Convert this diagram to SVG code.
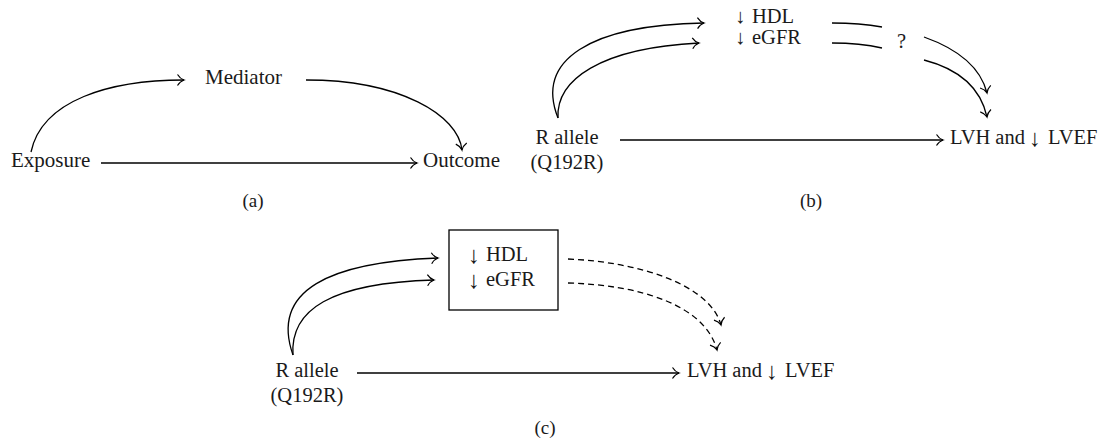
<svg xmlns="http://www.w3.org/2000/svg" width="1101" height="445" viewBox="0 0 1101 445">
<defs>
<style>
text{font-family:"Liberation Serif","Times New Roman",serif;fill:#1a1a1a;}
.t{font-size:20.5px;}
.ta{font-size:21px;}
.lab{font-size:19px;}
.ar{font-size:24px;}
.c{fill:none;stroke:#000;stroke-width:1.3;}
.d{stroke-dasharray:6,4;}
.box{fill:#fff;stroke:#000;stroke-width:1.3;}
</style>
<marker id="ah" markerUnits="userSpaceOnUse" markerWidth="20" markerHeight="20" viewBox="-10 -10 20 20" refX="0" refY="0" orient="auto" overflow="visible">
<path d="M-6.5,-5.5 C-4.5,-2.2 -1.8,-0.6 0,0 C-1.8,0.6 -4.5,2.2 -6.5,5.5" fill="none" stroke="#000" stroke-width="1.2" stroke-dasharray="none"/>
</marker>
</defs>
<rect width="1101" height="445" fill="#fff"/>

<g id="connectors">
<!-- panel a -->
<path class="c" d="M31,152 C42,100 110,80 184,80" marker-end="url(#ah)"/>
<path class="c" d="M306,80 C400,80 458,115 462,150" marker-end="url(#ah)"/>
<path class="c" d="M101,163 L417,163" marker-end="url(#ah)"/>
<!-- panel b -->
<path class="c" d="M558,118 C535,60 590,25 704,23" marker-end="url(#ah)"/>
<path class="c" d="M558,118 C556,80 600,48 699,43" marker-end="url(#ah)"/>
<path class="c" d="M620,140 L943,140" marker-end="url(#ah)"/>
<path class="c" d="M832,23 Q860,23 882,27"/>
<path class="c" d="M832,43 Q860,43 882,48"/>
<path class="c" d="M924,37 C955,48 980,65 987,93" marker-end="url(#ah)"/>
<path class="c" d="M924,60 C955,68 980,85 987,117" marker-end="url(#ah)"/>
<!-- panel c -->
<path class="c" d="M293,355 C270,290 330,262 438,258" marker-end="url(#ah)"/>
<path class="c" d="M293,355 C290,310 330,283 434,280" marker-end="url(#ah)"/>
<path class="c" d="M357,373 L679,373" marker-end="url(#ah)"/>
<path class="c d" d="M568,259 C640,262 710,285 721,325" marker-end="url(#ah)"/>
<path class="c d" d="M568,283 C640,285 705,305 717,350" marker-end="url(#ah)"/>
</g>

<!-- panel a nodes -->
<g id="a-exposure"><text class="ta" x="11" y="167">Exposure</text></g>
<g id="a-mediator"><text class="ta" x="205" y="84">Mediator</text></g>
<g id="a-outcome"><text class="ta" x="423" y="167">Outcome</text></g>
<g id="a-label"><text class="lab" x="253" y="207" text-anchor="middle">(a)</text></g>

<!-- panel b nodes -->
<g id="b-rallele">
<text class="t" x="567" y="144" text-anchor="middle">R allele</text>
<text class="t" x="567" y="169" text-anchor="middle">(Q192R)</text>
</g>
<g id="b-mediators">
<text class="t" y="23"><tspan x="735">↓</tspan><tspan x="752">HDL</tspan></text>
<text class="t" y="44"><tspan x="735">↓</tspan><tspan x="752">eGFR</tspan></text>
</g>
<g id="b-question"><text class="t" x="897" y="48">?</text></g>
<g id="b-outcome">
<text class="t"><tspan x="950" y="144">LVH and</tspan><tspan class="ar" x="1029" y="146">↓</tspan><tspan x="1048" y="144">LVEF</tspan></text>
</g>
<g id="b-label"><text class="lab" x="811" y="207" text-anchor="middle">(b)</text></g>

<!-- panel c nodes -->
<g id="c-rallele">
<text class="t" x="307" y="377" text-anchor="middle">R allele</text>
<text class="t" x="307" y="402" text-anchor="middle">(Q192R)</text>
</g>
<g id="c-mediators">
<rect class="box" x="449" y="230" width="109" height="80"/>
<text class="t"><tspan class="ar" x="468" y="263">↓</tspan><tspan x="486" y="261">HDL</tspan><tspan class="ar" x="468" y="288">↓</tspan><tspan x="486" y="286">eGFR</tspan></text>
</g>
<g id="c-outcome">
<text class="t"><tspan x="687" y="377">LVH and</tspan><tspan class="ar" x="766" y="379">↓</tspan><tspan x="785" y="377">LVEF</tspan></text>
</g>
<g id="c-label"><text class="lab" x="545" y="434" text-anchor="middle">(c)</text></g>
</svg>
